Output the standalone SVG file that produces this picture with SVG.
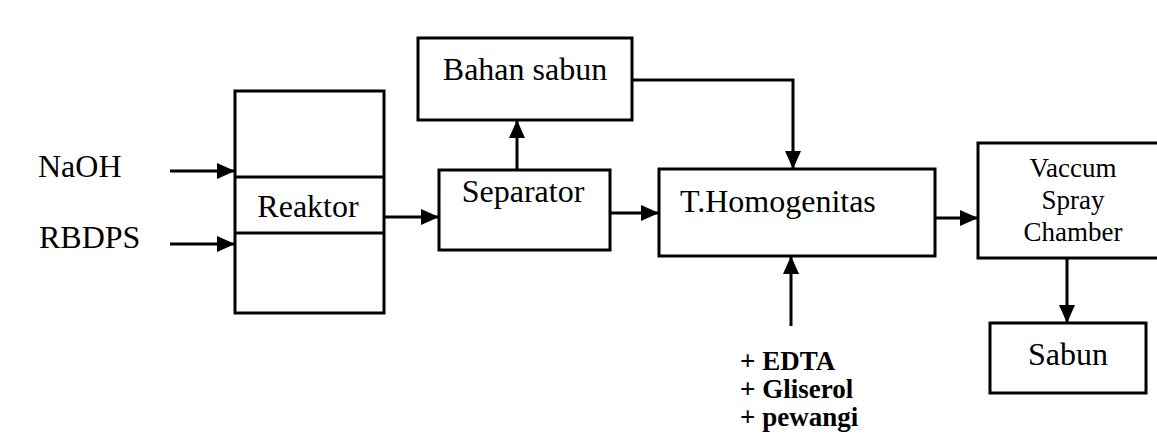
<svg xmlns="http://www.w3.org/2000/svg" width="1157" height="439" viewBox="0 0 1157 439">
<style>
.box{fill:none;stroke:#000;stroke-width:3}
.lbl{font-family:"Liberation Serif","Times New Roman",serif;font-size:32px;fill:#000}
.sm{font-size:27px}
.add{font-size:27px;font-weight:bold}
.con{fill:none;stroke:#000;stroke-width:3;marker-end:url(#ah)}
</style>
<defs>
<marker id="ah" markerUnits="userSpaceOnUse" markerWidth="18" markerHeight="16" refX="18" refY="8" orient="auto">
<path d="M0,0 L18,8 L0,16 z" fill="#000"/>
</marker>
</defs>
<rect width="1157" height="439" fill="#fff"/>
<g id="naoh"><text class="lbl" x="38" y="177">NaOH</text></g>
<g id="rbdps"><text class="lbl" x="39" y="248">RBDPS</text></g>
<g id="reaktor">
<rect class="box" x="235" y="91" width="149" height="222"/>
<line class="box" x1="235" y1="177" x2="384" y2="177"/>
<line class="box" x1="235" y1="233" x2="384" y2="233"/>
<text class="lbl" x="308" y="217" text-anchor="middle">Reaktor</text>
</g>
<g id="bahan-sabun">
<rect class="box" x="418" y="38" width="214" height="82"/>
<text class="lbl" x="525" y="80" text-anchor="middle">Bahan sabun</text>
</g>
<g id="separator">
<rect class="box" x="439" y="170" width="171" height="80"/>
<text class="lbl" x="523" y="202" text-anchor="middle">Separator</text>
</g>
<g id="homogenitas">
<rect class="box" x="659" y="169" width="276" height="87"/>
<text class="lbl" x="680" y="212">T.Homogenitas</text>
</g>
<g id="vaccum">
<rect class="box" x="978" y="143" width="185" height="115"/>
<text class="lbl sm" x="1073" y="177" text-anchor="middle">Vaccum</text>
<text class="lbl sm" x="1073" y="209" text-anchor="middle">Spray</text>
<text class="lbl sm" x="1073" y="241" text-anchor="middle">Chamber</text>
</g>
<g id="sabun">
<rect class="box" x="990" y="323" width="156" height="70"/>
<text class="lbl" x="1068" y="365" text-anchor="middle">Sabun</text>
</g>
<g id="additives">
<text class="lbl add" x="740" y="370">+ EDTA</text>
<text class="lbl add" x="740" y="398">+ Gliserol</text>
<text class="lbl add" x="740" y="426">+ pewangi</text>
</g>
<g id="connectors">
<path class="con" d="M170,171 H235"/>
<path class="con" d="M170,244 H235"/>
<path class="con" d="M384,217 H439"/>
<path class="con" d="M517,170 V120"/>
<path class="con" d="M632,80 H793 V169"/>
<path class="con" d="M610,213 H659"/>
<path class="con" d="M791,326 V256"/>
<path class="con" d="M935,218 H978"/>
<path class="con" d="M1067,258 V323"/>
</g>
</svg>
